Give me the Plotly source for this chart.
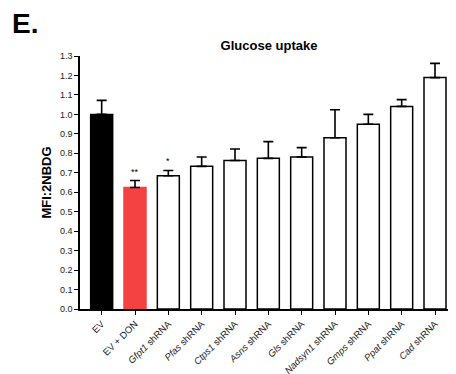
import plotly.graph_objects as go

categories = ["EV", "EV + DON", "<i>Gfpt1</i> shRNA", "<i>Pfas</i> shRNA", "<i>Ctps1</i> shRNA",
              "<i>Asns</i> shRNA", "<i>Gls</i> shRNA", "<i>Nadsyn1</i> shRNA", "<i>Gmps</i> shRNA",
              "<i>Ppat</i> shRNA", "<i>Cad</i> shRNA"]
values = [1.0, 0.624, 0.685, 0.733, 0.763, 0.774, 0.781, 0.880, 0.949, 1.041, 1.189]
errors = [0.072, 0.036, 0.027, 0.048, 0.059, 0.086, 0.048, 0.144, 0.051, 0.035, 0.073]
colors = ["#000000", "#F44242"] + ["#FFFFFF"] * 9
sig_labels = ["", "**", "*", "", "", "", "", "", "", "", ""]
y_ticks = [round(i * 0.1, 1) for i in range(14)]

x = list(range(len(categories)))

W, H = 448, 366  # page body adds an 8px offset

fig = go.Figure()
fig.add_trace(go.Bar(
    x=x, y=values, width=0.66,
    marker=dict(color=colors, line=dict(color=["#000000", "#F44242"] + ["#000000"] * 9, width=1.5)),
    error_y=dict(type="data", array=errors, arrayminus=[0] * len(errors), symmetric=False,
                 color="#000000", thickness=1.6, width=5),
    showlegend=False,
))

for xi, v, e, s in zip(x, values, errors, sig_labels):
    if s:
        fig.add_annotation(x=xi, y=v + e, text=s, showarrow=False, yshift=9,
                           font=dict(size=9, color="#000000", family="Liberation Sans, Arial"))

fig.add_annotation(xref="paper", yref="paper", x=-0.186, y=1.13, xanchor="left", yanchor="middle",
                   text="<b>E.</b>", showarrow=False,
                   font=dict(size=28, color="#000000", family="Liberation Sans, Arial"))

fig.update_layout(
    width=W, height=H,
    margin=dict(l=72, r=0, t=48, b=65, pad=0, autoexpand=False),
    paper_bgcolor="white", plot_bgcolor="white",
    title=dict(text="<b>Glucose uptake</b>", x=(269 - 8) / W, xref="container", xanchor="center",
               y=1 - (45 - 8) / H, yref="container", yanchor="middle",
               font=dict(size=13, color="#000000", family="Liberation Sans, Arial")),
    font=dict(family="Liberation Sans, Arial", color="#222222"),
    bargap=0.34,
)
fig.update_xaxes(
    range=[-0.65, 10.63], tickmode="array", tickvals=x, ticktext=categories,
    tickangle=-45, ticks="outside", ticklen=4, tickwidth=1.2, tickcolor="#000000",
    showline=True, linecolor="#000000", linewidth=1.5, showgrid=False, zeroline=False,
    tickfont=dict(size=9.5, color="#222222"), automargin=False,
)
fig.update_yaxes(
    range=[0, 1.3], tickmode="array", tickvals=y_ticks, ticktext=[f"{v:.1f}" for v in y_ticks],
    ticks="outside", ticklen=4, tickwidth=1.2, tickcolor="#000000",
    showline=True, linecolor="#000000", linewidth=1.5, showgrid=False, zeroline=False,
    tickfont=dict(size=9, color="#222222"), automargin=False,
    title=dict(text="<b>MFI:2NBDG</b>", font=dict(size=13, color="#000000"), standoff=5),
)

fig.write_html("out.html")
